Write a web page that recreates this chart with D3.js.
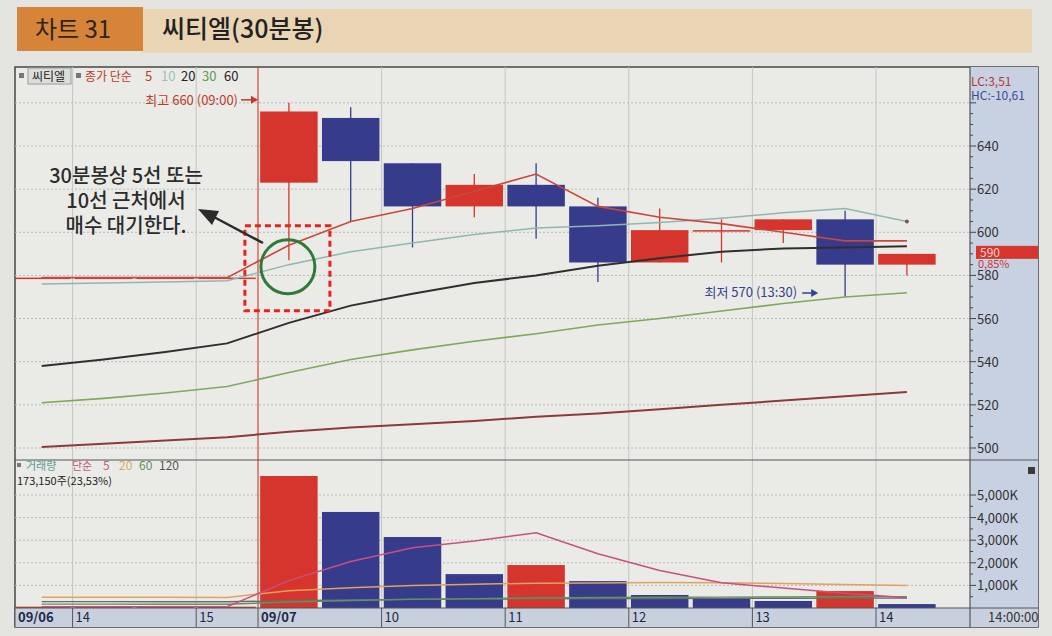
<!DOCTYPE html>
<html>
<head>
<meta charset="utf-8">
<script src="https://cdn.jsdelivr.net/npm/d3@7"></script>
<style>
body { margin: 0; background: #e4e5e0; }
svg { display: block; }
text { font-family: "Liberation Sans Narrow", "Noto Sans CJK KR", sans-serif; }
.kr { font-family: "Noto Sans CJK KR", sans-serif; }
</style>
</head>
<body>
<svg width="1052" height="636"></svg>
<script>
// 30분봉 슬롯 (마지막 하나는 빈 칸)
var slots = ["09/06 13:30", "09/06 14:00", "09/06 14:30", "09/06 15:00",
  "09/07 09:00", "09/07 09:30", "09/07 10:00", "09/07 10:30", "09/07 11:00", "09/07 11:30",
  "09/07 12:00", "09/07 12:30", "09/07 13:00", "09/07 13:30", "09/07 14:00", "09/07 14:30"];

var open  = [579, 579, 579, 579, 623, 653, 632, 612, 622, 612, 586, 601, 601, 606, 585];
var high  = [579, 579, 579, 579, 660, 658, 632, 627, 632, 616, 611, 606, 606, 610, 590];
var low   = [579, 579, 579, 579, 587, 605, 593, 607, 597, 577, 586, 586, 595, 570, 580];
var close = [579, 579, 579, 579, 656, 633, 612, 622, 612, 586, 601, 601, 606, 585, 590];

var ma5  = [579, 579, 579, 579, 594, 605, 611, 619, 627, 612, 607, 604, 600, 596, 596];
var ma10 = [576, 576.5, 577, 577.5, 585, 591, 595, 599, 602, 603, 604.5, 606.5, 609, 611, 605];
var ma20 = [538, 541, 544.5, 548.5, 558, 566, 571.5, 576.5, 580, 584.5, 588, 591, 592.5, 593, 593.5];
var ma30 = [521, 523, 525.5, 528.5, 535, 541, 545.5, 549.5, 553, 557, 560, 563.5, 567, 570, 572];
var ma60 = [500.5, 502, 503.5, 505, 507.5, 509.5, 511, 512.5, 514.5, 516, 518, 520, 522, 524, 526];

// 거래량 (천주)
var vol    = [60, 50, 55, 60, 5840, 4250, 3140, 1500, 1900, 1190, 575, 440, 310, 750, 173];
var vma5   = [60, 58, 57, 58, 1210, 2060, 2670, 2960, 3330, 2400, 1660, 1120, 880, 650, 450];
var vma20  = [480, 480, 475, 470, 760, 900, 1000, 1050, 1100, 1110, 1130, 1120, 1080, 1040, 1000];
var vma60  = [170, 170, 165, 165, 265, 335, 390, 415, 445, 465, 475, 483, 490, 500, 505];
var vma120 = [280, 280, 275, 275, 320, 355, 380, 392, 408, 418, 423, 427, 430, 436, 437];

var hourSlots  = [0, 1, 3, 4, 6, 8, 10, 12, 14];
var hourLabels = ["09/06", "14", "15", "09/07", "10", "11", "12", "13", "14"];
var priceTicks = [500, 520, 540, 560, 580, 600, 620, 640];
var volTicks   = [1000, 2000, 3000, 4000, 5000];

var svg = d3.select("svg");
var L = 15, R = 970, T = 67, PB = 460, VB = 608, SB = 627, AR = 1038;
var RED = "#d6352d", BLUE = "#363b8b";

var x = d3.scaleBand().domain(slots).range([10.8, 10.8 + slots.length * 61.8]);
var xc = function(i) { return x(slots[i]) + x.bandwidth() / 2; };
var y = d3.scaleLinear().domain([500, 640]).range([448, 146]);
var yv = d3.scaleLinear().domain([0, 5000]).range([VB, 495]);

// title
svg.append("rect").attr("x", 143).attr("y", 9).attr("width", 889).attr("height", 44).attr("fill", "#e9d4b4");
svg.append("rect").attr("x", 17).attr("y", 7).attr("width", 126).attr("height", 44).attr("fill", "#d5843a");
svg.append("text").attr("class", "kr").attr("x", 35).attr("y", 38).attr("font-size", 24)
  .attr("fill", "#2e2418").text("차트 31");
svg.append("text").attr("class", "kr").attr("x", 162).attr("y", 38).attr("font-size", 25).attr("font-weight", 500)
  .attr("fill", "#222").text("씨티엘(30분봉)");

// frame
svg.append("rect").attr("x", L).attr("y", T).attr("width", AR - L).attr("height", SB - T)
  .attr("fill", "#eaebe7").attr("stroke", "#454545").attr("stroke-width", 1.5);
svg.append("rect").attr("x", R).attr("y", T).attr("width", AR - R).attr("height", VB - T).attr("fill", "#c8d1e1");
svg.append("rect").attr("x", L).attr("y", VB).attr("width", AR - L).attr("height", SB - VB).attr("fill", "#c9d0dd");

var defs = svg.append("defs");
defs.append("clipPath").attr("id", "cp").append("rect").attr("x", L).attr("y", T).attr("width", R - L).attr("height", PB - T);
defs.append("clipPath").attr("id", "cv").append("rect").attr("x", L).attr("y", PB).attr("width", R - L).attr("height", VB - PB);

// grid
var grid = svg.append("g");
grid.selectAll(".gp").data(priceTicks.concat([660])).enter().append("line")
  .attr("x1", L).attr("x2", R).attr("y1", function(d) { return y(d); }).attr("y2", function(d) { return y(d); })
  .attr("stroke", "#b8bcb8").attr("stroke-dasharray", "2,2");
grid.selectAll(".gv").data(volTicks).enter().append("line")
  .attr("x1", L).attr("x2", R).attr("y1", function(d) { return yv(d); }).attr("y2", function(d) { return yv(d); })
  .attr("stroke", "#b8bcb8").attr("stroke-dasharray", "2,2");
grid.selectAll(".gx").data(hourSlots.filter(function(s) { return s > 0 && s != 4; })).enter().append("line")
  .attr("x1", function(s) { return x(slots[s]); }).attr("x2", function(s) { return x(slots[s]); })
  .attr("y1", T).attr("y2", VB).attr("stroke", "#c2c5c2");

// day separator
svg.append("line").attr("x1", x(slots[4])).attr("x2", x(slots[4])).attr("y1", T).attr("y2", VB)
  .attr("stroke", "#d4453b").attr("stroke-width", 1.2);

// price panel
var pg = svg.append("g").attr("clip-path", "url(#cp)");
var idx = d3.range(close.length);
var bw = x.bandwidth() * 0.93;

pg.selectAll(".wick").data(idx).enter().append("line")
  .attr("x1", xc).attr("x2", xc)
  .attr("y1", function(i) { return y(high[i]); }).attr("y2", function(i) { return y(low[i]); })
  .attr("stroke", function(i) { return close[i] >= open[i] ? RED : BLUE; }).attr("stroke-width", 1.3);
pg.selectAll(".body").data(idx).enter().append("rect")
  .attr("x", function(i) { return xc(i) - bw / 2; }).attr("width", bw)
  .attr("y", function(i) { return y(Math.max(open[i], close[i])); })
  .attr("height", function(i) { return Math.max(1.5, Math.abs(y(open[i]) - y(close[i]))); })
  .attr("fill", function(i) { return close[i] >= open[i] ? RED : BLUE; });

var line = function(arr, sc) {
  return d3.line().x(function(d, i) { return xc(i); }).y(function(d) { return sc(d); })(arr);
};
[[ma60, "#8c3a3a", 2], [ma30, "#7ea85e", 1.6], [ma20, "#332e2e", 2], [ma10, "#8fb7b0", 1.5], [ma5, "#c9473d", 1.6]]
  .forEach(function(m) {
    pg.append("path").attr("d", line(m[0], y)).attr("fill", "none").attr("stroke", m[1]).attr("stroke-width", m[2]);
  });
pg.append("circle").attr("cx", xc(14)).attr("cy", y(ma10[14])).attr("r", 2).attr("fill", "#7a5a4a");

// volume panel
var vg = svg.append("g").attr("clip-path", "url(#cv)");
vg.selectAll(".vbar").data(idx).enter().append("rect")
  .attr("x", function(i) { return xc(i) - bw / 2; }).attr("width", bw)
  .attr("y", function(i) { return yv(vol[i]); })
  .attr("height", function(i) { return VB - yv(vol[i]); })
  .attr("fill", function(i) { return i < 4 || vol[i] >= vol[i - 1] ? RED : BLUE; });
[[vma120, "#6b6b6b", 1.4], [vma60, "#5e925e", 1.4], [vma20, "#e0a35a", 1.5], [vma5, "#c85080", 1.5]]
  .forEach(function(m) {
    vg.append("path").attr("d", line(m[0], yv)).attr("fill", "none").attr("stroke", m[1]).attr("stroke-width", m[2]);
  });

// panel lines
svg.append("line").attr("x1", L).attr("x2", AR).attr("y1", PB).attr("y2", PB).attr("stroke", "#555").attr("stroke-width", 1.2);
svg.append("line").attr("x1", R).attr("x2", R).attr("y1", T).attr("y2", SB).attr("stroke", "#555").attr("stroke-width", 1.2);
svg.append("line").attr("x1", L).attr("x2", AR).attr("y1", VB).attr("y2", VB).attr("stroke", "#555").attr("stroke-width", 1.2);

// right axes
var ax = svg.append("g").attr("font-size", 13).attr("fill", "#333");
ax.selectAll(".mt").data(d3.range(500, 665, 5)).enter().append("line")
  .attr("x1", R).attr("x2", function(d) { return d % 20 == 0 ? R + 6 : R + 3; })
  .attr("y1", function(d) { return y(d); }).attr("y2", function(d) { return y(d); })
  .attr("stroke", "#444");
ax.selectAll(".pl").data(priceTicks).enter().append("text")
  .attr("x", R + 7).attr("y", function(d) { return y(d) + 5; }).text(function(d) { return d; });
ax.selectAll(".vt").data(d3.range(500, 5500, 500)).enter().append("line")
  .attr("x1", R).attr("x2", function(d) { return d % 1000 == 0 ? R + 6 : R + 3; })
  .attr("y1", function(d) { return yv(d); }).attr("y2", function(d) { return yv(d); })
  .attr("stroke", "#444");
ax.selectAll(".vl").data(volTicks).enter().append("text")
  .attr("x", R + 7).attr("y", function(d) { return yv(d) + 5; })
  .text(function(d) { return d3.format(",")(d) + "K"; });

svg.append("text").attr("x", R + 1).attr("y", 86).attr("font-size", 12).attr("fill", "#b8333a").text("LC:3,51");
svg.append("rect").attr("x", R + 1).attr("y", 90).attr("width", 60).attr("height", 12).attr("fill", "#c8d1e1");
svg.append("text").attr("x", R + 1).attr("y", 100).attr("font-size", 12).attr("fill", "#3b4c93").text("HC:-10,61");

svg.append("rect").attr("x", R + 6).attr("y", y(close[14]) - 8).attr("width", AR - R - 6).attr("height", 13).attr("fill", "#d6352d");
svg.append("text").attr("x", R + 10).attr("y", y(close[14]) + 3).attr("font-size", 12).attr("fill", "#f6d8cf").text(close[14]);
svg.append("text").attr("x", R + 8).attr("y", y(close[14]) + 14).attr("font-size", 11).attr("fill", "#c33a3a").text("0,85%");

svg.append("rect").attr("x", 1028).attr("y", 467).attr("width", 7).attr("height", 7).attr("fill", "#3a3a3a");

// time strip
var st = svg.append("g");
st.selectAll(".sd").data(hourSlots).enter().append("line")
  .attr("x1", function(s) { return Math.max(L, x(slots[s])); }).attr("x2", function(s) { return Math.max(L, x(slots[s])); })
  .attr("y1", VB).attr("y2", SB).attr("stroke", "#555");
st.selectAll(".sl").data(hourSlots).enter().append("text")
  .attr("x", function(s) { return Math.max(L, x(slots[s])) + 3; }).attr("y", SB - 5)
  .attr("font-size", 13).attr("fill", "#1f2747")
  .attr("font-weight", function(s, i) { return hourLabels[i].length > 2 ? "bold" : "normal"; })
  .text(function(s, i) { return hourLabels[i]; });
st.append("text").attr("x", 988).attr("y", SB - 5).attr("font-size", 13).attr("fill", "#333").text("14:00:00");

// legends
var lg = svg.append("g").attr("font-size", 13);
lg.append("rect").attr("x", 19).attr("y", 73).attr("width", 5).attr("height", 5).attr("fill", "#777");
lg.append("rect").attr("x", 28).attr("y", 68).attr("width", 43).attr("height", 16).attr("fill", "#dcdedb").attr("stroke", "#9a9a9a");
lg.append("text").attr("class", "kr").attr("x", 32).attr("y", 81).attr("font-size", 12).attr("fill", "#222").text("씨티엘");
lg.append("rect").attr("x", 76).attr("y", 73).attr("width", 5).attr("height", 5).attr("fill", "#777");
lg.append("text").attr("class", "kr").attr("x", 85).attr("y", 81).attr("font-size", 12).attr("fill", "#c0392b").text("종가 단순");
lg.append("text").attr("x", 145).attr("y", 81).attr("fill", "#c0392b").text("5");
lg.append("text").attr("x", 161).attr("y", 81).attr("fill", "#9cc0ba").text("10");
lg.append("text").attr("x", 181).attr("y", 81).attr("fill", "#222").text("20");
lg.append("text").attr("x", 202).attr("y", 81).attr("fill", "#5c9a4c").text("30");
lg.append("text").attr("x", 224).attr("y", 81).attr("fill", "#2a2222").text("60");

lg.append("rect").attr("x", 17).attr("y", 463).attr("width", 4).attr("height", 4).attr("fill", "#777");
lg.append("text").attr("class", "kr").attr("x", 26).attr("y", 470).attr("font-size", 11).attr("fill", "#5a9a96").text("거래량");
lg.append("text").attr("class", "kr").attr("x", 72).attr("y", 470).attr("font-size", 11).attr("fill", "#c25a7a").text("단순");
lg.append("text").attr("x", 103).attr("y", 470).attr("font-size", 12).attr("fill", "#c25a7a").text("5");
lg.append("text").attr("x", 119).attr("y", 470).attr("font-size", 12).attr("fill", "#d8a85a").text("20");
lg.append("text").attr("x", 139).attr("y", 470).attr("font-size", 12).attr("fill", "#5e925e").text("60");
lg.append("text").attr("x", 159).attr("y", 470).attr("font-size", 12).attr("fill", "#555").text("120");
lg.append("text").attr("class", "kr").attr("x", 17).attr("y", 485).attr("font-size", 11).attr("fill", "#222").text("173,150주(23,53%)");

// high / low marks
svg.append("text").attr("class", "kr").attr("x", x(slots[4]) - 20).attr("y", y(660) + 2).attr("text-anchor", "end")
  .attr("font-size", 13).attr("fill", "#c0392b").text("최고 660 (09:00)");
svg.append("line").attr("x1", x(slots[4]) - 17).attr("x2", x(slots[4]) - 4).attr("y1", y(660) - 3).attr("y2", y(660) - 3)
  .attr("stroke", "#c0392b").attr("stroke-width", 1.5);
svg.append("path").attr("d", "M" + (x(slots[4])) + "," + (y(660) - 3) + "l-7,-4v8z").attr("fill", "#c0392b");

svg.append("text").attr("class", "kr").attr("x", x(slots[13]) - 17).attr("y", y(570)).attr("text-anchor", "end")
  .attr("font-size", 13).attr("fill", "#36428a").text("최저 570 (13:30)");
svg.append("line").attr("x1", x(slots[13]) - 12).attr("x2", x(slots[13])).attr("y1", y(570) - 4).attr("y2", y(570) - 4)
  .attr("stroke", "#36428a").attr("stroke-width", 1.5);
svg.append("path").attr("d", "M" + (x(slots[13]) + 4) + "," + (y(570) - 4) + "l-7,-4v8z").attr("fill", "#36428a");

// annotation
var an = svg.append("g");
an.append("rect").attr("x", xc(4) - 44).attr("y", y(603)).attr("width", 85).attr("height", 85)
  .attr("fill", "none").attr("stroke", "#e8221f").attr("stroke-width", 3).attr("stroke-dasharray", "6,4");
an.append("circle").attr("cx", xc(4) - 1).attr("cy", y(584)).attr("r", 27)
  .attr("fill", "none").attr("stroke", "#2f7a38").attr("stroke-width", 3);
an.append("line").attr("x1", 263).attr("y1", 243).attr("x2", 212).attr("y2", 216)
  .attr("stroke", "#2b2b2b").attr("stroke-width", 2.5);
an.append("path").attr("d", "M198,209 L219,211 L212,225 Z").attr("fill", "#2b2b2b");
var notes = ["30분봉상 5선 또는", "10선 근처에서", "매수 대기한다."];
an.selectAll(".note").data(notes).enter().append("text").attr("class", "kr")
  .attr("x", 126).attr("y", function(d, i) { return 183 + i * 25; })
  .attr("text-anchor", "middle").attr("font-size", 20).attr("font-weight", 500).attr("fill", "#2c2c2c")
  .text(function(d) { return d; });
</script>
</body>
</html>
